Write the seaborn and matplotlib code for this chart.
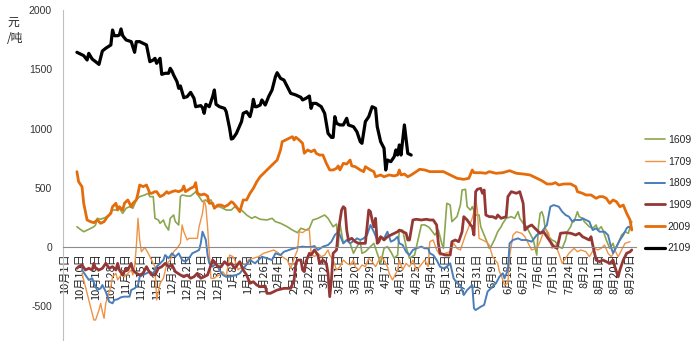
import matplotlib
matplotlib.use("Agg")
import matplotlib.pyplot as plt
import seaborn as sns
import pandas as pd
from matplotlib.ticker import MultipleLocator, FixedLocator

sns.set_style("white")
plt.rcParams['font.family'] = ['Noto Sans CJK SC', 'DejaVu Sans']

# ---- tick labels (every 9 days from 10月1日) ----
tick_days = list(range(0, 334, 9))
tick_labels = ["10月1日", "10月10日", "10月19日", "10月28日", "11月6日", "11月15日",
               "11月24日", "12月3日", "12月12日", "12月21日", "12月30日", "1月8日",
               "1月17日", "1月26日", "2月4日", "2月13日", "2月22日", "3月2日",
               "3月11日", "3月20日", "3月29日", "4月7日", "4月16日", "4月25日",
               "5月4日", "5月13日", "5月22日", "5月31日", "6月9日", "6月18日",
               "6月27日", "7月6日", "7月15日", "7月24日", "8月2日", "8月11日",
               "8月20日", "8月29日"]

series_names = ["1609", "1709", "1809", "1909", "2009", "2109"]

# ---- series data: day offset from 10月1日, value 元/吨 ----
days_1609 = [7, 9, 11, 14, 17, 18, 19, 21, 24, 26, 27, 28, 30, 32, 34, 36, 38, 40, 42, 44,
             47, 49, 50, 52, 53, 55, 56, 58, 59, 61, 62, 64, 65, 67, 68, 69, 72, 74, 76, 77,
             79, 81, 83, 84, 86, 88, 89, 91, 93, 95, 96, 98, 100, 102, 104, 107, 110, 112, 115, 119,
             122, 124, 127, 131, 134, 137, 139, 142, 144, 146, 149, 153, 155, 158, 160, 161, 162, 163, 164, 166,
             168, 170, 172, 174, 175, 177, 179, 182, 184, 186, 188, 190, 192, 194, 196, 197, 199, 201, 203, 206,
             208, 210, 212, 214, 215, 218, 220, 222, 223, 225, 227, 228, 231, 233, 234, 236, 237, 239, 240, 242,
             244, 245, 247, 249, 250, 251, 253, 255, 257, 258, 260, 263, 265, 267, 268, 270, 272, 274, 276, 278,
             279, 280, 281, 282, 283, 284, 285, 287, 289, 291, 293, 295, 296, 298, 299, 300, 302, 303, 305, 306,
             307, 309, 311, 313, 314, 316, 317, 319, 321, 323, 324, 326, 328, 330, 332, 334]
vals_1609 = [171, 149, 129, 149, 171, 186, 242, 234, 251, 270, 298, 312, 312, 327, 284, 327, 340, 327, 397, 425,
             439, 453, 425, 425, 242, 228, 200, 228, 186, 143, 242, 270, 214, 186, 425, 439, 430, 430, 453, 467,
             425, 382, 397, 382, 397, 327, 340, 340, 327, 312, 312, 312, 340, 318, 312, 270, 242, 256, 234, 228,
             242, 214, 200, 171, 143, 121, 158, 143, 158, 228, 242, 270, 242, 171, 194, 3, 200, 116, 31, 59,
             31, -53, 3, 45, -53, -40, -11, 31, -53, -138, -11, 3, -40, -95, -68, 143, 143, 3, -95, -68,
             59, 186, 186, 171, 158, 101, 143, 31, -11, 369, 354, 214, 256, 354, 481, 487, 340, 312, 340, 270,
             270, 171, 101, 31, -11, 3, 59, 129, 171, 200, 242, 256, 242, 298, 242, 200, 171, 116, 59, -68,
             171, 284, 298, 256, 158, 129, 87, 59, 45, 3, -11, 59, 129, 171, 214, 214, 298, 256, 242, 214,
             200, 171, 158, 186, 143, 171, 143, 59, -11, 31, -25, 31, 101, 129, 116, 214]

days_1709 = [10, 12, 14, 16, 17, 18, 20, 21, 22, 23, 24, 26, 27, 28, 30, 31, 33, 35, 37, 39,
             40, 41, 42, 43, 44, 45, 47, 49, 51, 53, 54, 56, 58, 60, 62, 64, 66, 68, 69, 70,
             72, 73, 76, 78, 79, 81, 82, 83, 84, 85, 86, 88, 89, 91, 93, 95, 97, 99, 100, 102,
             103, 106, 108, 111, 114, 117, 120, 123, 126, 128, 131, 133, 135, 137, 138, 140, 142, 144, 145, 147,
             149, 151, 153, 155, 156, 158, 160, 162, 164, 166, 168, 170, 171, 173, 175, 177, 179, 181, 183, 186,
             188, 190, 191, 193, 196, 197, 199, 201, 203, 205, 207, 209, 212, 214, 215, 217, 219, 221, 224, 227,
             229, 231, 233, 235, 236, 238, 240, 241, 242, 243, 244, 246, 248, 250, 252, 255, 256, 257, 259, 261,
             262, 264, 266, 269, 271, 273, 275, 278, 280, 282, 283, 285, 287, 289, 291, 293, 295, 297, 299, 300,
             302, 304, 307, 309, 312, 314, 316, 318, 320, 322, 324, 326, 328, 330, 333]
vals_1709 = [-222, -335, -447, -560, -616, -616, -532, -475, -546, -602, -475, -377, -335, -251, -222, -278, -236, -251, -222, -194,
             -236, -166, 3, 242, 59, -40, -3, -53, -110, -166, -447, -306, -264, -138, -110, -40, -11, 31, 186, 129,
             59, 73, 73, 73, 171, 284, 397, 340, 171, -53, -264, -264, -251, -236, -208, -251, -68, -82, -110, -194,
             -180, -166, -110, -95, -82, -53, -40, -25, -53, -82, -110, -180, -95, -25, 129, 121, 143, 143, -53, -82,
             -53, -82, -68, -25, -68, -110, -194, -166, -110, -138, -152, -110, -166, -194, -152, -166, -95, -124, -166, -82,
             -110, -166, -222, -278, -194, -110, -194, -138, -166, -110, -194, -166, -110, -166, 45, 59, -25, -68, -53, -40,
             31, -11, -25, 59, 101, 171, 242, 298, 411, 312, 73, 59, 45, 17, -82, -138, -208, -236, -321, -306,
             -82, 101, 129, 116, 87, 31, -25, -11, 45, 129, 158, 116, -11, 17, -53, -138, -95, -53, -25, -11,
             -40, -25, -40, -82, -11, -25, -11, 17, -53, -82, -25, -82, -25, 31, 45]

days_1809 = [10, 12, 14, 16, 18, 19, 21, 22, 24, 26, 28, 29, 31, 33, 35, 38, 39, 41, 43, 44,
             46, 48, 50, 52, 54, 56, 58, 59, 61, 63, 65, 67, 69, 71, 73, 75, 77, 79, 80, 81,
             83, 84, 85, 87, 89, 91, 93, 95, 97, 99, 101, 103, 106, 109, 112, 114, 116, 119, 122, 124,
             127, 129, 132, 135, 137, 140, 142, 145, 147, 149, 152, 155, 157, 159, 161, 162, 164, 166, 168, 171,
             172, 174, 176, 178, 180, 182, 184, 186, 188, 190, 192, 194, 196, 197, 199, 201, 203, 205, 207, 210,
             212, 214, 215, 217, 219, 221, 223, 225, 227, 229, 231, 233, 235, 237, 239, 240, 241, 242, 245, 247,
             249, 251, 252, 254, 256, 258, 259, 261, 262, 264, 267, 269, 272, 275, 278, 281, 284, 286, 288, 291,
             293, 295, 297, 299, 300, 304, 305, 307, 309, 311, 313, 315, 318, 320, 322, 323, 325, 327, 329, 331,
             332, 334]
vals_1809 = [-194, -236, -278, -264, -335, -363, -349, -321, -377, -462, -475, -447, -441, -424, -419, -419, -363, -349, -321, -251,
             -236, -222, -208, -222, -166, -138, -110, -68, -95, -53, -82, -53, -110, -124, -95, -53, -40, -25, 31, 129,
             59, -68, -138, -166, -138, -194, -236, -251, -251, -245, -236, -222, -166, -110, -138, -110, -82, -95, -110, -53,
             -68, -40, -25, -11, -3, 3, 0, 0, 8, -25, 3, 17, 45, 101, 129, 101, 31, 59, 31, 59,
             73, 59, 73, 101, 186, 129, 59, 87, 73, 129, 45, 59, 87, 31, 17, -40, -68, -25, -11, 3,
             -11, -11, -53, -68, -110, -166, -180, -166, -138, -264, -306, -321, -405, -363, -335, -321, -517, -532, -504, -489,
             -377, -349, -335, -306, -251, -222, -264, -194, 31, 59, 73, 59, 59, 45, 101, 129, 186, 340, 354, 340,
             298, 270, 256, 214, 228, 228, 242, 228, 214, 143, 158, 129, 129, 101, -11, -53, 3, 59, 101, 158,
             171, 158]

days_1909 = [7, 8, 10, 12, 14, 16, 17, 18, 20, 22, 24, 26, 28, 30, 31, 32, 34, 36, 37, 39,
             40, 42, 44, 46, 48, 49, 51, 53, 55, 57, 59, 61, 63, 65, 68, 70, 72, 74, 76, 78,
             80, 82, 84, 85, 87, 88, 90, 92, 94, 96, 98, 100, 103, 105, 107, 109, 111, 113, 115, 118,
             119, 121, 125, 129, 133, 135, 136, 137, 139, 140, 141, 142, 144, 145, 147, 149, 150, 152, 154, 155,
             156, 157, 158, 160, 161, 163, 164, 165, 166, 167, 169, 171, 173, 175, 177, 178, 179, 180, 181, 182,
             183, 184, 185, 186, 188, 190, 192, 194, 196, 197, 199, 201, 202, 203, 205, 207, 210, 213, 215, 217,
             219, 220, 221, 224, 227, 228, 230, 232, 234, 235, 237, 239, 240, 241, 242, 243, 245, 246, 247, 248,
             250, 252, 254, 255, 257, 260, 261, 263, 266, 268, 270, 271, 273, 275, 278, 280, 282, 284, 286, 288,
             290, 292, 295, 298, 301, 303, 305, 307, 309, 310, 311, 313, 315, 317, 319, 321, 323, 324, 326, 327,
             329, 331, 333, 334]
vals_1909 = [-180, -166, -152, -194, -180, -194, -138, -180, -194, -180, -138, -180, -166, -194, -138, -194, -236, -180, -194, -138,
             -194, -222, -236, -222, -166, -194, -236, -236, -180, -166, -138, -166, -152, -208, -236, -251, -236, -264, -251, -222,
             -264, -251, -236, -194, -110, -124, -166, -166, -124, -152, -138, -180, -124, -194, -236, -306, -293, -321, -335, -329,
             -391, -391, -363, -349, -349, -278, -138, -110, -110, -194, -208, -124, -53, -68, -25, -68, -138, -110, -138, -222,
             -419, -278, -53, -25, 129, 312, 340, 327, 143, 59, 73, 45, 31, 31, 31, 171, 312, 298, 228, 171,
             242, 31, 45, 87, 59, 87, 101, 116, 129, 143, 129, 116, 59, 59, 228, 234, 228, 234, 228, 228,
             186, 31, -53, -68, -68, 45, 59, 45, 129, 256, 228, 186, 171, 101, 467, 487, 495, 453, 481, 270,
             256, 256, 242, 270, 242, 256, 425, 467, 453, 467, 369, 143, 171, 186, 143, 116, 129, 87, 45, 3,
             -11, 116, 121, 116, 101, 116, 87, 73, 59, 87, 17, -110, -124, -110, -124, -138, -110, -166, -251, -194,
             -110, -53, -40, -25]

days_2009 = [7, 8, 10, 11, 13, 15, 17, 19, 21, 23, 25, 27, 28, 30, 31, 32, 34, 35, 37, 39,
             40, 42, 43, 44, 46, 48, 50, 51, 53, 54, 56, 58, 60, 61, 63, 65, 67, 69, 70, 71,
             74, 76, 77, 78, 80, 82, 84, 85, 87, 88, 90, 92, 94, 96, 98, 99, 101, 103, 105, 107,
             109, 111, 113, 115, 118, 121, 123, 125, 127, 128, 130, 132, 134, 135, 136, 138, 140, 141, 143, 145,
             147, 148, 150, 152, 154, 156, 158, 160, 161, 162, 164, 166, 168, 169, 171, 174, 176, 177, 180, 182,
             183, 186, 188, 191, 194, 196, 197, 198, 200, 202, 204, 207, 209, 212, 215, 223, 227, 231, 235, 238,
             240, 241, 245, 248, 250, 254, 258, 262, 266, 270, 274, 278, 281, 284, 287, 289, 291, 294, 298, 301,
             302, 305, 307, 310, 313, 315, 317, 319, 321, 323, 325, 327, 329, 331, 333, 334]
vals_2009 = [636, 551, 509, 369, 228, 214, 205, 228, 200, 214, 256, 284, 340, 369, 312, 340, 312, 369, 397, 340,
             369, 397, 453, 523, 509, 523, 453, 453, 467, 467, 425, 439, 467, 453, 467, 475, 467, 481, 515, 467,
             495, 509, 543, 453, 439, 447, 430, 369, 369, 327, 354, 354, 340, 354, 382, 374, 340, 298, 397, 397,
             453, 495, 551, 593, 636, 678, 706, 734, 819, 889, 903, 917, 931, 903, 926, 903, 875, 791, 819, 804,
             819, 791, 776, 776, 706, 650, 650, 664, 684, 650, 706, 700, 734, 684, 678, 650, 636, 678, 650, 636,
             593, 608, 593, 608, 600, 608, 650, 608, 616, 593, 608, 636, 656, 650, 636, 636, 608, 580, 571, 580,
             650, 627, 627, 622, 636, 622, 627, 644, 622, 616, 608, 580, 560, 532, 532, 543, 523, 532, 532, 509,
             467, 453, 439, 439, 411, 425, 425, 411, 369, 397, 382, 340, 354, 284, 228, 143]

days_2109 = [7, 11, 13, 14, 16, 18, 20, 21, 22, 24, 27, 28, 29, 31, 32, 33, 34, 36, 39, 41,
             42, 44, 48, 50, 52, 53, 54, 56, 57, 59, 61, 62, 63, 64, 66, 67, 68, 70, 72, 74,
             76, 77, 80, 81, 82, 83, 85, 87, 88, 89, 91, 94, 95, 97, 98, 99, 101, 104, 105, 107,
             109, 110, 111, 112, 113, 115, 116, 118, 120, 122, 124, 125, 127, 129, 131, 133, 136, 139, 140, 142,
             144, 145, 146, 148, 151, 153, 155, 157, 158, 159, 160, 162, 164, 166, 167, 170, 172, 174, 175, 177,
             179, 181, 183, 184, 186, 188, 189, 190, 192, 194, 195, 196, 197, 198, 200, 202, 204]
vals_2109 = [1643, 1615, 1578, 1634, 1586, 1564, 1541, 1598, 1654, 1677, 1705, 1831, 1783, 1783, 1789, 1840, 1783, 1747, 1733, 1643,
             1733, 1733, 1705, 1564, 1578, 1592, 1550, 1592, 1457, 1466, 1466, 1508, 1485, 1451, 1395, 1339, 1359, 1260, 1269, 1305,
             1255, 1184, 1193, 1176, 1128, 1204, 1184, 1269, 1325, 1204, 1184, 1170, 1142, 1001, 911, 917, 959, 1058, 1128, 1142,
             1100, 1156, 1246, 1184, 1184, 1198, 1241, 1198, 1269, 1325, 1437, 1471, 1423, 1409, 1353, 1297, 1283, 1263, 1241, 1255,
             1274, 1170, 1212, 1212, 1184, 1128, 959, 925, 925, 1100, 1044, 1030, 1030, 1086, 1030, 1015, 973, 889, 875, 1058,
             1100, 1184, 1170, 1015, 889, 833, 650, 734, 720, 762, 819, 776, 861, 776, 1030, 790, 776]

all_days = [days_1609, days_1709, days_1809, days_1909, days_2009, days_2109]
all_vals = [vals_1609, vals_1709, vals_1809, vals_1909, vals_2009, vals_2109]
colors = ["#8AA64E", "#EE9446", "#4A7EBB", "#953735", "#E46C0A", "#000000"]
widths = [1.2, 1.0, 1.4, 2.0, 2.0, 2.3]

fig = plt.figure(figsize=(6.93, 3.41), dpi=100)
ax = fig.add_axes([63 / 693, 1 - 341.8 / 341, (636 - 63) / 693, (341.8 - 10) / 341])

for name, d, v, c, w in zip(series_names, all_days, all_vals, colors, widths):
    df = pd.DataFrame({"day": d, "value": v})
    sns.lineplot(data=df, x="day", y="value", ax=ax, color=c, linewidth=w,
                 label=name, estimator=None, sort=False)

ax.set_xlim(-1.2, 336.5)
ax.set_ylim(-800, 2000)
ax.set_xlabel("")
ax.set_ylabel("")

for s in ["top", "right"]:
    ax.spines[s].set_visible(False)
ax.spines["left"].set_color("#BFBFBF")
ax.spines["left"].set_linewidth(0.8)
ax.spines["bottom"].set_position(("data", 0))
ax.spines["bottom"].set_color("#8C8C8C")
ax.spines["bottom"].set_linewidth(0.8)
ax.set_zorder(1)

ax.set_yticks([-500, 0, 500, 1000, 1500, 2000])
ax.set_yticklabels(["-500", "0", "500", "1000", "1500", "2000"],
                   fontsize=7.5, color="#333333", family="Liberation Sans")
ax.tick_params(axis="y", direction="out", length=4, width=0.8, color="#BFBFBF", pad=4)

ax.xaxis.set_major_locator(FixedLocator(tick_days))
ax.xaxis.set_minor_locator(MultipleLocator(1))
ax.set_xticklabels(tick_labels, rotation=90, fontsize=8, color="#222222")
for lab in ax.get_xticklabels():
    lab.set_verticalalignment("top")
ax.tick_params(axis="x", which="major", direction="out", length=3, width=0.6, color="#8C8C8C", pad=1.5)
ax.tick_params(axis="x", which="minor", direction="out", length=3, width=0.5, color="#A6A6A6")

handles, labels = ax.get_legend_handles_labels()
ax.get_legend().remove()
fig.legend(handles, labels, loc="upper left", bbox_to_anchor=(645 / 693, 1 - 135 / 341),
           frameon=False, handlelength=1.9, handletextpad=0.3,
           labelspacing=1.12, borderpad=0, borderaxespad=0,
           prop={"family": "Liberation Sans", "size": 7.5})

fig.text(7 / 693, 1 - 16 / 341, "元\n/吨", fontsize=8.5, va="top", ha="left",
         linespacing=1.25, color="#222222")

fig.savefig("out.png", dpi=100)
